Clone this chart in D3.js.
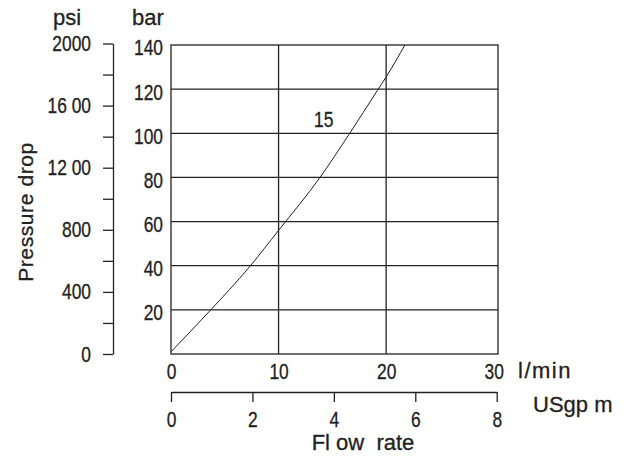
<!DOCTYPE html>
<html lang="en">

<head>
    <meta charset="UTF-8">
    <title>Pressure drop vs flow rate</title>
    <script src="https://d3js.org/d3.v7.min.js"></script>
    <style>
        body {
            margin: 0;
            background: #ffffff;
        }

        svg text {
            font-family: 'Liberation Sans', Arial, sans-serif;
            font-size: 22px;
            fill: #222222;
            stroke: #222222;
            stroke-width: 0.3px;
        }

        .grid line,
        .frame {
            stroke: #222222;
            stroke-width: 1.3;
            fill: none;
        }

        .axis path,
        .axis line {
            stroke: #222222;
            stroke-width: 1.3;
        }
    </style>
</head>

<body>
    <svg width="626" height="456"></svg>

    <script>
        // Curve "15": flow (l/min) vs pressure drop (bar)
        const flowLmin = [0, 3.6, 7.3, 10.0, 13.85, 16.55, 19.2, 20.0, 21.8];
        const dropBar = [1, 19.5, 39.5, 56, 80, 99.5, 119.5, 125.5, 140.5];

        // Tick values and labels
        const barTicks = [20, 40, 60, 80, 100, 120, 140];
        const psiTicks = [0, 200, 400, 600, 800, 1000, 1200, 1400, 1600, 1800, 2000];
        const psiLabels = { 0: "0", 400: "400", 800: "800", 1200: "12 00", 1600: "16 00", 2000: "2000" };
        const lminTicks = [0, 10, 20, 30];
        const gpmTicks = [0, 2, 4, 6, 8];
        const gridFlow = [10, 20];
        const curveLabel = { text: "15", flow: 14.2, bar: 103 };

        const LPM_PER_GPM = 3.785;

        const svg = d3.select("svg");

        // Scales
        const x = d3.scaleLinear().domain([0, 30.4]).range([171, 498]);
        const y = d3.scaleLinear().domain([0, 140]).range([354, 45]);
        const yPsi = d3.scaleLinear().domain([0, 2000]).range([354, 43.5]);
        const xGpm = d3.scaleLinear().domain([0, 8]).range([x(0), x(8 * LPM_PER_GPM)]);

        // Grid lines
        const grid = svg.append("g").attr("class", "grid");
        grid.selectAll(".h")
            .data(barTicks.slice(0, -1))
            .enter()
            .append("line")
            .attr("x1", x(0))
            .attr("x2", x(30.4))
            .attr("y1", d => y(d))
            .attr("y2", d => y(d));
        grid.selectAll(".v")
            .data(gridFlow)
            .enter()
            .append("line")
            .attr("x1", d => x(d))
            .attr("x2", d => x(d))
            .attr("y1", y(0))
            .attr("y2", y(140));

        // Frame
        svg.append("rect")
            .attr("class", "frame")
            .attr("x", x(0))
            .attr("y", y(140))
            .attr("width", x(30.4) - x(0))
            .attr("height", y(0) - y(140));

        // Curve
        const pts = flowLmin.map((f, i) => [f, dropBar[i]]);
        svg.append("clipPath")
            .attr("id", "clip")
            .append("rect")
            .attr("x", x(0))
            .attr("y", y(140))
            .attr("width", x(30.4) - x(0))
            .attr("height", y(0) - y(140));
        svg.append("path")
            .datum(pts)
            .attr("clip-path", "url(#clip)")
            .attr("fill", "none")
            .attr("stroke", "#222222")
            .attr("stroke-width", 1)
            .attr("d", d3.line()
                .x(d => x(d[0]))
                .y(d => y(d[1]))
                .curve(d3.curveMonotoneX));

        svg.append("text")
            .attr("class", "num")
            .attr("x", x(curveLabel.flow))
            .attr("y", y(curveLabel.bar))
            .attr("text-anchor", "middle")
            .text(curveLabel.text);

        // bar axis (labels only)
        svg.append("g")
            .attr("class", "axis")
            .attr("transform", `translate(${x(0)},0)`)
            .call(d3.axisLeft(y).tickValues(barTicks).tickSize(0).tickPadding(8))
            .call(g => g.select(".domain").remove())
            .selectAll("text")
            .attr("dy", "0.45em");

        // psi axis
        svg.append("g")
            .attr("class", "axis")
            .attr("transform", "translate(113,0)")
            .call(d3.axisLeft(yPsi)
                .tickValues(psiTicks)
                .tickSize(10)
                .tickSizeOuter(0)
                .tickPadding(12)
                .tickFormat(d => psiLabels[d] || ""))
            .selectAll("text")
            .style("white-space", "pre");

        // l/min axis (labels only, the frame is the line)
        svg.append("g")
            .attr("class", "axis")
            .attr("transform", `translate(0,${y(0)})`)
            .call(d3.axisBottom(x).tickValues(lminTicks).tickSize(0).tickPadding(9))
            .call(g => g.select(".domain").remove());

        // USgpm axis
        svg.append("g")
            .attr("class", "axis")
            .attr("transform", "translate(0,392)")
            .call(d3.axisBottom(xGpm).tickValues(gpmTicks).tickSize(10).tickSizeOuter(0).tickPadding(9));

        // Condensed look for the numbers only
        svg.selectAll(".axis text, text.num").each(function () {
            const w = this.getComputedTextLength();
            if (w > 0) {
                d3.select(this)
                    .attr("textLength", w * 0.79)
                    .attr("lengthAdjust", "spacingAndGlyphs");
            }
        });

        // Unit and axis titles
        svg.append("text").attr("x", 67).attr("y", 25).attr("text-anchor", "middle").text("psi");
        svg.append("text").attr("x", 148).attr("y", 25).attr("text-anchor", "middle").text("bar");
        svg.append("text").attr("x", 518).attr("y", 378).style("letter-spacing", "1.5px").text("l/min");
        svg.append("text").attr("x", 533).attr("y", 412).style("white-space", "pre").text("USgp m");
        svg.append("text")
            .attr("x", 363)
            .attr("y", 450)
            .attr("text-anchor", "middle")
            .style("white-space", "pre")
            .text("Fl ow  rate");
        svg.append("text")
            .attr("transform", "translate(33,212) rotate(-90)")
            .attr("text-anchor", "middle")
            .style("font-size", "21px")
            .style("letter-spacing", "0.6px")
            .text("Pressure drop");
    </script>
</body>

</html>
